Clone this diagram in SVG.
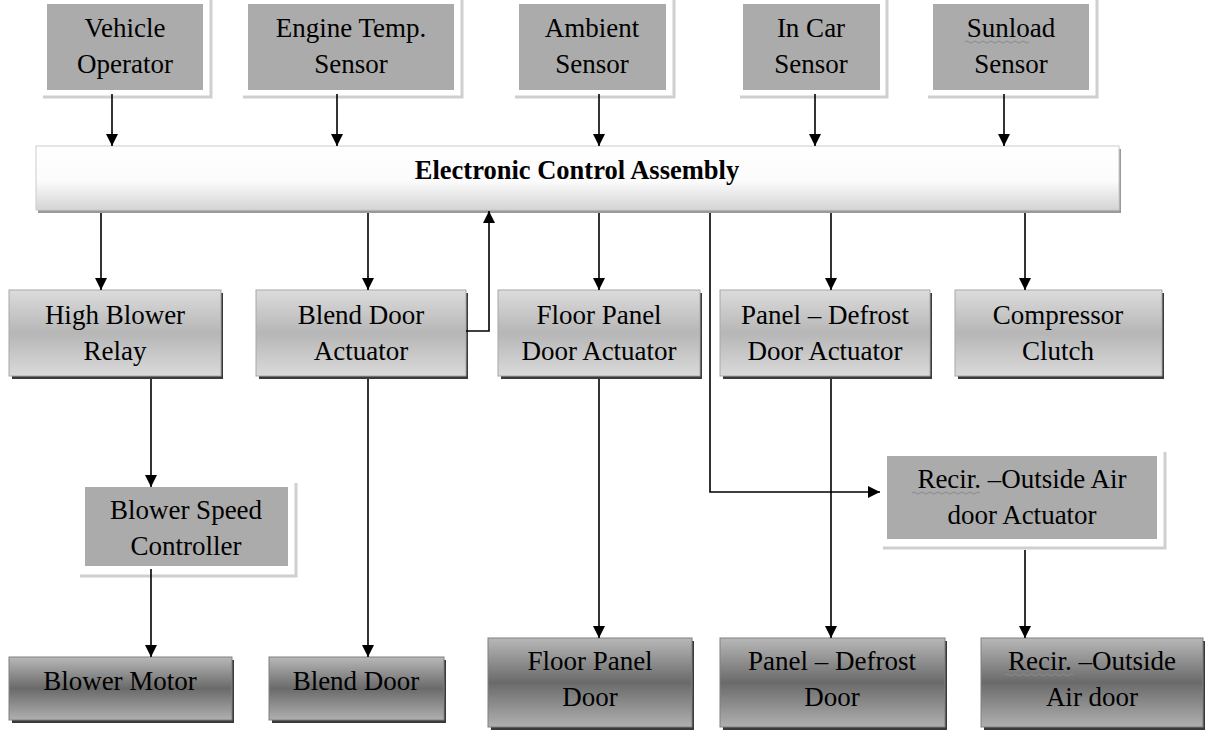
<svg xmlns="http://www.w3.org/2000/svg" width="1205" height="730" viewBox="0 0 1205 730">
<defs>
<linearGradient id="gEca" x1="0" y1="0" x2="0" y2="1">
<stop offset="0" stop-color="#ffffff"/><stop offset="0.55" stop-color="#fbfbfb"/><stop offset="1" stop-color="#d4d4d4"/>
</linearGradient>
<linearGradient id="gMid" x1="0" y1="0" x2="0" y2="1">
<stop offset="0" stop-color="#dcdcdc"/><stop offset="0.5" stop-color="#b6b6b6"/><stop offset="1" stop-color="#dadada"/>
</linearGradient>
<linearGradient id="gBot" x1="0" y1="0" x2="0" y2="1">
<stop offset="0" stop-color="#b8b8b8"/><stop offset="0.5" stop-color="#6a6a6a"/><stop offset="1" stop-color="#b0b0b0"/>
</linearGradient>
<marker id="ah" markerUnits="userSpaceOnUse" markerWidth="12" markerHeight="12" refX="12" refY="6" orient="auto">
<path d="M0,0 L12,6 L0,12 z" fill="#000"/>
</marker>
</defs>
<style>
text{font-family:"Liberation Serif","Times New Roman",serif;font-size:27px;fill:#000;text-anchor:middle}
.b{font-weight:bold;font-size:26.5px}
.flat{fill:#ababab}
.fsh{fill:none;stroke:#cfcfcf;stroke-width:3}
.mid{fill:url(#gMid);stroke:#a8a8a8;stroke-width:1}
.bot{fill:url(#gBot);stroke:#808080;stroke-width:1}
.dsh{fill:#3a3a3a}
.c{fill:none;stroke:#000;stroke-width:1.6;marker-end:url(#ah)}
.sq{fill:none;stroke:#8a8a8a;stroke-width:1}
</style>
<rect width="1205" height="730" fill="#fff"/>

<g id="vehicle-operator">
<polyline class="fsh" points="43,97 211,97 211,0"/>
<rect class="flat" x="47" y="4" width="156" height="86"/>
<text x="125" y="37">Vehicle</text><text x="125" y="73">Operator</text>
</g>
<g id="engine-temp-sensor">
<polyline class="fsh" points="243,97 462,97 462,0"/>
<rect class="flat" x="248" y="4" width="206" height="86"/>
<text x="351" y="37">Engine Temp.</text><text x="351" y="73">Sensor</text>
</g>
<g id="ambient-sensor">
<polyline class="fsh" points="515,97 674,97 674,0"/>
<rect class="flat" x="519" y="4" width="147" height="86"/>
<text x="592" y="37">Ambient</text><text x="592" y="73">Sensor</text>
</g>
<g id="in-car-sensor">
<polyline class="fsh" points="740,97 887,97 887,0"/>
<rect class="flat" x="743" y="4" width="137" height="86"/>
<text x="811" y="37">In Car</text><text x="811" y="73">Sensor</text>
</g>
<g id="sunload-sensor">
<polyline class="fsh" points="928,97 1097,97 1097,0"/>
<rect class="flat" x="933" y="4" width="156" height="86"/>
<text x="1011" y="37">Sunload</text><text x="1011" y="73">Sensor</text>
<path class="sq" d="M965,42 q2,-2 4,0 t4,0 t4,0 t4,0 t4,0 t4,0 t4,0 t4,0 t4,0 t4,0 t4,0 t4,0 t4,0 t4,0 t4,0 t4,0"/>
</g>

<g id="electronic-control-assembly">
<rect x="38" y="149" width="1083" height="64" fill="#9a9a9a"/>
<rect x="36" y="146" width="1083" height="64" fill="url(#gEca)" stroke="#cccccc" stroke-width="1"/>
<text class="b" x="577" y="179">Electronic Control Assembly</text>
</g>

<g id="high-blower-relay">
<rect class="dsh" x="12" y="293" width="211" height="86"/>
<rect class="mid" x="9" y="290" width="212" height="86"/>
<text x="115" y="324">High Blower</text><text x="115" y="360">Relay</text>
</g>
<g id="blend-door-actuator">
<rect class="dsh" x="259" y="293" width="209" height="86"/>
<rect class="mid" x="256" y="290" width="210" height="86"/>
<text x="361" y="324">Blend Door</text><text x="361" y="360">Actuator</text>
</g>
<g id="floor-panel-door-actuator">
<rect class="dsh" x="501" y="293" width="201" height="86"/>
<rect class="mid" x="498" y="290" width="202" height="86"/>
<text x="599" y="324">Floor Panel</text><text x="599" y="360">Door Actuator</text>
</g>
<g id="panel-defrost-door-actuator">
<rect class="dsh" x="723" y="293" width="209" height="86"/>
<rect class="mid" x="720" y="290" width="210" height="86"/>
<text x="825" y="324">Panel – Defrost</text><text x="825" y="360">Door Actuator</text>
</g>
<g id="compressor-clutch">
<rect class="dsh" x="958" y="293" width="206" height="86"/>
<rect class="mid" x="955" y="290" width="207" height="86"/>
<text x="1058" y="324">Compressor</text><text x="1058" y="360">Clutch</text>
</g>

<g id="blower-speed-controller">
<polyline class="fsh" points="80,576 296,576 296,483"/>
<rect class="flat" x="85" y="487" width="203" height="79"/>
<text x="186" y="519">Blower Speed</text><text x="186" y="555">Controller</text>
</g>
<g id="recir-outside-air-door-actuator">
<polyline class="fsh" points="883,548 1165,548 1165,452"/>
<rect class="flat" x="887" y="456" width="270" height="83"/>
<text x="1022" y="488">Recir. –Outside Air</text><text x="1022" y="524">door Actuator</text>
<path class="sq" d="M912,493 q2,-2 4,0 t4,0 t4,0 t4,0 t4,0 t4,0 t4,0 t4,0 t4,0 t4,0 t4,0 t4,0 t4,0 t4,0 t4,0 t4,0 t4,0"/>
</g>

<g id="blower-motor">
<rect class="dsh" x="12" y="660" width="222" height="63"/>
<rect class="bot" x="9" y="657" width="223" height="63"/>
<text x="120" y="690">Blower Motor</text>
</g>
<g id="blend-door">
<rect class="dsh" x="272" y="660" width="174" height="63"/>
<rect class="bot" x="269" y="657" width="175" height="63"/>
<text x="356" y="690">Blend Door</text>
</g>
<g id="floor-panel-door">
<rect class="dsh" x="491" y="641" width="203" height="89"/>
<rect class="bot" x="488" y="638" width="204" height="89"/>
<text x="590" y="670">Floor Panel</text><text x="590" y="706">Door</text>
</g>
<g id="panel-defrost-door">
<rect class="dsh" x="723" y="641" width="224" height="89"/>
<rect class="bot" x="720" y="638" width="225" height="89"/>
<text x="832" y="670">Panel – Defrost</text><text x="832" y="706">Door</text>
</g>
<g id="recir-outside-air-door">
<rect class="dsh" x="984" y="641" width="221" height="89"/>
<rect class="bot" x="981" y="638" width="222" height="89"/>
<text x="1092" y="670">Recir. –Outside</text><text x="1092" y="706">Air door</text>
<path class="sq" d="M1005,675 q2,-2 4,0 t4,0 t4,0 t4,0 t4,0 t4,0 t4,0 t4,0 t4,0 t4,0 t4,0 t4,0 t4,0 t4,0 t4,0 t4,0 t4,0"/>
</g>

<g id="connectors">
<path class="c" d="M112,94 V146"/>
<path class="c" d="M337,94 V146"/>
<path class="c" d="M599,94 V146"/>
<path class="c" d="M815,94 V146"/>
<path class="c" d="M1004,94 V146"/>
<path class="c" d="M101,213 V290"/>
<path class="c" d="M368,213 V290"/>
<path class="c" d="M599,213 V290"/>
<path class="c" d="M831,213 V290"/>
<path class="c" d="M1025,213 V290"/>
<path class="c" d="M466,331 H489 V211"/>
<path class="c" d="M710,213 V492 H880"/>
<path class="c" d="M151,379 V487"/>
<path class="c" d="M151,569 V657"/>
<path class="c" d="M368,379 V657"/>
<path class="c" d="M599,379 V638"/>
<path class="c" d="M831,379 V638"/>
<path class="c" d="M1025,550 V638"/>
</g>
</svg>
